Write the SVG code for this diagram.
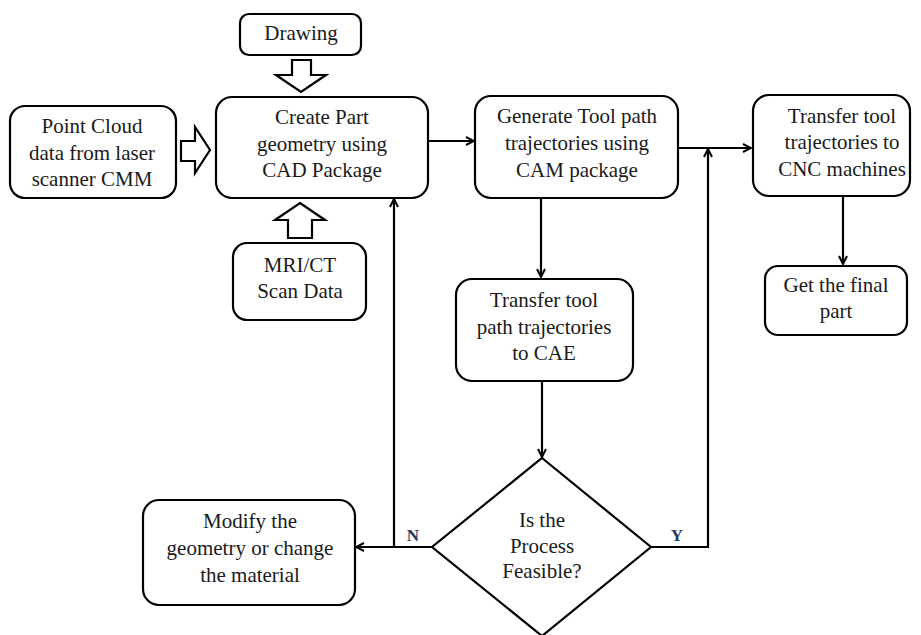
<svg xmlns="http://www.w3.org/2000/svg" width="921" height="635" viewBox="0 0 921 635">
<defs>
<marker id="arr" viewBox="0 0 10 10" refX="9" refY="5" markerWidth="10" markerHeight="10" markerUnits="userSpaceOnUse" orient="auto">
<path d="M1,1 L9,5 L1,9" fill="none" stroke="#000" stroke-width="2"/>
</marker>
<style>
.box{fill:#fff;stroke:#000;stroke-width:2.2}
.blk{fill:#fff;stroke:#000;stroke-width:2.2;stroke-linejoin:miter}
.t{font-size:21px;fill:#1a1a1a;text-anchor:middle}
.lbl{font-size:17px;font-weight:bold;fill:#1f3a5f;text-anchor:middle}
.c{fill:none;stroke:#000;stroke-width:2.2}
</style>
</defs>
<rect width="921" height="635" fill="#fff"/>

<g font-family="'Liberation Serif', 'DejaVu Serif', serif">
<g id="connectors">
<path class="c" d="M428,141 H474" marker-end="url(#arr)"/>
<path class="c" d="M678,148 H751" marker-end="url(#arr)"/>
<path class="c" d="M541,198 V277" marker-end="url(#arr)"/>
<path class="c" d="M843,196 V264" marker-end="url(#arr)"/>
<path class="c" d="M542,381 V457" marker-end="url(#arr)"/>
<path class="c" d="M432,547 H356" marker-end="url(#arr)"/>
<path class="c" d="M394,547 V199" marker-end="url(#arr)"/>
<path class="c" d="M650,547 H708 V149" marker-end="url(#arr)"/>
<polygon class="blk" points="292,60 311,60 311,75 326,75 301,92 276,75 292,75"/>
<polygon class="blk" points="181,141 195,141 195,127 210,150 195,173 195,161 181,161"/>
<polygon class="blk" points="300,203 325,220 312,220 312,238 288,238 288,220 275,220"/>
<text class="lbl" x="413" y="541">N</text>
<text class="lbl" x="677" y="541">Y</text>
</g>

<g id="drawing">
<rect class="box" x="240" y="14" width="121" height="41" rx="9"/>
<text class="t" x="301" y="40">Drawing</text>
</g>

<g id="point-cloud">
<rect class="box" x="10" y="106" width="166" height="92" rx="15"/>
<text class="t" x="92" y="133">Point Cloud</text>
<text class="t" x="92" y="160">data from laser</text>
<text class="t" x="92" y="186">scanner CMM</text>
</g>

<g id="create-part">
<rect class="box" x="216" y="97" width="212" height="101" rx="16"/>
<text class="t" x="322" y="124">Create Part</text>
<text class="t" x="322" y="151">geometry using</text>
<text class="t" x="322" y="177">CAD Package</text>
</g>

<g id="mri-ct">
<rect class="box" x="233" y="243" width="133" height="77" rx="14"/>
<text class="t" x="300" y="272">MRI/CT</text>
<text class="t" x="300" y="298">Scan Data</text>
</g>

<g id="generate">
<rect class="box" x="475" y="96" width="203" height="102" rx="16"/>
<text class="t" x="577" y="123">Generate Tool path</text>
<text class="t" x="577" y="150">trajectories using</text>
<text class="t" x="577" y="177">CAM package</text>
</g>

<g id="transfer-cnc">
<rect class="box" x="753" y="95" width="157" height="101" rx="16"/>
<text class="t" x="842" y="123">Transfer tool</text>
<text class="t" x="842" y="149">trajectories to</text>
<text class="t" x="842" y="176">CNC machines</text>
</g>

<g id="final-part">
<rect class="box" x="765" y="266" width="142" height="69" rx="13"/>
<text class="t" x="836" y="292">Get the final</text>
<text class="t" x="836" y="318">part</text>
</g>

<g id="transfer-cae">
<rect class="box" x="456" y="279" width="177" height="102" rx="16"/>
<text class="t" x="544" y="307">Transfer tool</text>
<text class="t" x="544" y="334">path trajectories</text>
<text class="t" x="544" y="360">to CAE</text>
</g>

<g id="feasible">
<polygon class="box" points="542,458 651,547 542,636 432,547"/>
<text class="t" x="542" y="527">Is the</text>
<text class="t" x="542" y="553">Process</text>
<text class="t" x="542" y="578">Feasible?</text>
</g>

<g id="modify">
<rect class="box" x="143" y="500" width="212" height="105" rx="16"/>
<text class="t" x="250" y="528">Modify the</text>
<text class="t" x="250" y="555">geometry or change</text>
<text class="t" x="250" y="582">the material</text>
</g>
</g>
</svg>
